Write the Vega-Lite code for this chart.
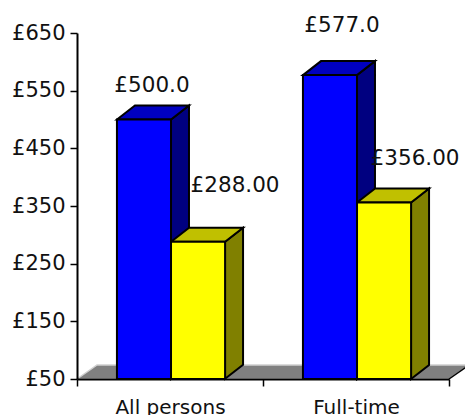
{
"$schema":"https://vega.github.io/schema/vega-lite/v6.json",
"autosize":"none","width":372,"height":346,
"padding":{"left":77,"top":33,"right":16,"bottom":36},
"background":"white",
"config":{"view":{"stroke":null},"font":"DejaVu Sans"},
"data":{"values":[
{"category":"All persons","series":"A","pay":500,"label":"£500.0"},
{"category":"All persons","series":"B","pay":288,"label":"£288.00"},
{"category":"Full-time","series":"A","pay":577,"label":"£577.0"},
{"category":"Full-time","series":"B","pay":356,"label":"£356.00"}
]},
"encoding":{
"x":{"field":"category","type":"nominal","sort":null,"title":null,"scale":{"type":"band","paddingInner":0,"paddingOuter":0},
"axis":{"tickBand":"extent","labelAngle":0,"labelFontSize":20,"labelColor":"#111","labelPadding":11,"tickSize":7,"tickColor":"black","tickWidth":1.5,"domainColor":"black","domainWidth":2,"grid":false,"labelFont":"DejaVu Sans","zindex":1}},
"xOffset":{"field":"series","type":"nominal","scale":{"paddingInner":0,"paddingOuter":0.72,"align":0.513}},
"y":{"field":"pay","type":"quantitative","title":null,"scale":{"domain":[50,650],"zero":false,"nice":false},
"axis":{"values":[50,150,250,350,450,550,650],"labelExpr":"'£'+datum.value","labelFontSize":21,"labelColor":"#111","labelPadding":5,"tickSize":7,"tickColor":"black","tickWidth":1.5,"domainColor":"black","domainWidth":2,"grid":false,"labelFont":"DejaVu Sans","zindex":1}}
},
"layer":[
{"data":{"values":[{"category":"All persons","pay":50}]},
 "mark":{"type":"point","filled":true,"opacity":1,"size":4,"fill":"#808080","stroke":"#d0d0d0","strokeWidth":1.5,"shape":"M0,0 L20,-14 L392,-14 L372,0 Z"},
 "encoding":{"xOffset":{"value":0}}},
{"data":{"values":[{"category":"All persons","pay":50}]},
 "mark":{"type":"point","filled":false,"opacity":1,"size":4,"stroke":"black","strokeWidth":1.5,"shape":"M372,0 L392,-14"},
 "encoding":{"xOffset":{"value":0}}},
{"mark":{"type":"point","filled":true,"opacity":1,"size":4,"stroke":"black","strokeWidth":2},
 "encoding":{
  "fill":{"field":"series","type":"nominal","legend":null,"scale":{"domain":["A","B"],"range":["#000080","#808000"]}},
  "shape":{"field":"pay","type":"nominal","legend":null,"scale":{"domain":[500,288,577,356],"range":[
   "M27,0 L45,-14 L45,245.5 L27,259.5 Z",
   "M27,0 L45,-14 L45,123 L27,137 Z",
   "M27,0 L45,-14 L45,290 L27,304 Z",
   "M27,0 L45,-14 L45,162.5 L27,176.5 Z"]}}}},
{"mark":{"type":"point","filled":true,"opacity":1,"size":4,"stroke":"black","strokeWidth":2,"shape":"M-27,0 L-9,-14 L45,-14 L27,0 Z"},
 "encoding":{"fill":{"field":"series","type":"nominal","legend":null,"scale":{"domain":["A","B"],"range":["#0000c0","#c0c000"]}}}},
{"mark":{"type":"bar","stroke":"black","strokeWidth":2},
 "encoding":{"y2":{"datum":50},"fill":{"field":"series","type":"nominal","legend":null,"scale":{"domain":["A","B"],"range":["#0000ff","#ffff00"]}}}},
{"transform":[{"filter":"datum.pay==500"}],"mark":{"type":"text","fontSize":21.5,"color":"#111","dx":8,"dy":-34},"encoding":{"text":{"field":"label"}}},
{"transform":[{"filter":"datum.pay==288"}],"mark":{"type":"text","fontSize":21.5,"color":"#111","dx":37,"dy":-56},"encoding":{"text":{"field":"label"}}},
{"transform":[{"filter":"datum.pay==577"}],"mark":{"type":"text","fontSize":21.5,"color":"#111","dx":12,"dy":-49},"encoding":{"text":{"field":"label"}}},
{"transform":[{"filter":"datum.pay==356"}],"mark":{"type":"text","fontSize":21.5,"color":"#111","dx":31,"dy":-44},"encoding":{"text":{"field":"label"}}}
],
"resolve":{"scale":{"fill":"independent"}}
}
